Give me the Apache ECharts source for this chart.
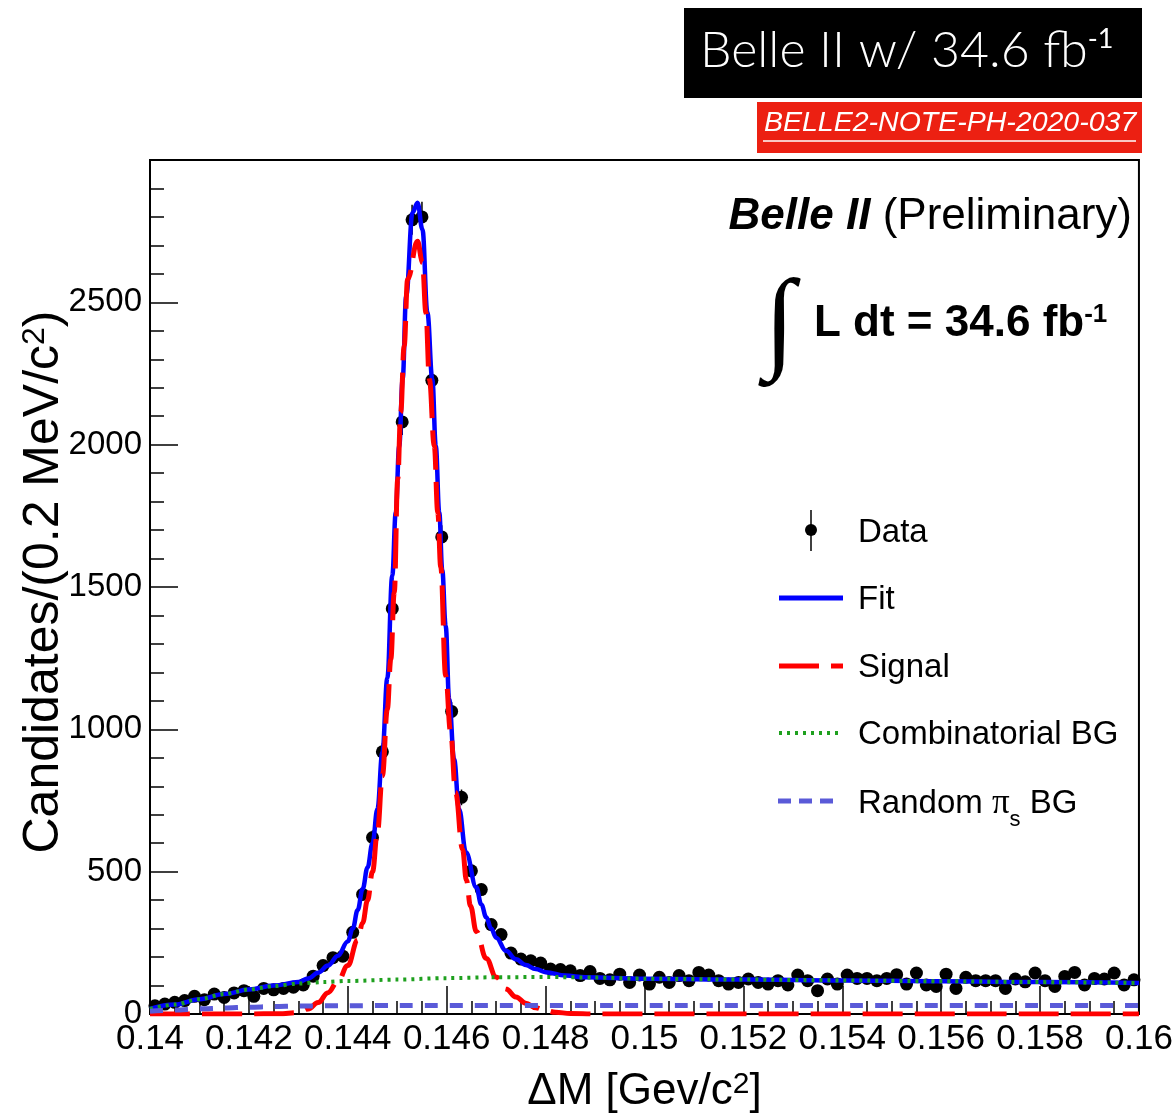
<!DOCTYPE html>
<html>
<head>
<meta charset="utf-8">
<script src="https://cdn.jsdelivr.net/npm/echarts@6/dist/echarts.min.js"></script>
<style>
html,body{margin:0;padding:0;background:#fff;}
#c{width:1176px;height:1119px;}
</style>
</head>
<body>
<div id="c"></div>
<script>
// ---------- data ----------
const binStart = 0.14;
const binWidth = 0.0002;
const dataCounts = [
  29, 35, 41, 47, 62, 50, 70, 58, 74, 82,
  62, 90, 85, 90, 94, 102, 133, 170, 198, 203,
  287, 420, 620, 921, 1424, 2080, 2790, 2800, 2226, 1676,
  1063, 761, 503, 437, 314, 279, 214, 193, 187, 179,
  158, 156, 152, 135, 149, 125, 120, 140, 111, 137,
  105, 129, 111, 135, 117, 146, 137, 117, 105, 111,
  123, 111, 105, 117, 102, 137, 117, 82, 123, 105,
  137, 125, 125, 117, 125, 138, 105, 144, 102, 97,
  140, 90, 129, 117, 117, 117, 90, 123, 113, 144,
  117, 97, 132, 146, 102, 125, 123, 144, 102, 120
];

const fitX = [0.1400,0.1405,0.1410,0.1415,0.1420,0.1425,0.1430,0.1432,0.1434,0.1436,0.1438,0.1440,0.1441,0.1442,0.1443,0.1444,0.1445,0.1446,0.1447,0.1448,0.1449,0.14497,0.14504,0.14511,0.14518,0.14531,0.14541,0.14551,0.14561,0.14571,0.14578,0.14585,0.14591,0.14598,0.14605,0.14615,0.14625,0.14639,0.1466,0.1467,0.1468,0.1469,0.1470,0.1472,0.1474,0.1476,0.1478,0.1480,0.1484,0.1488,0.1500,0.1520,0.1540,0.1560,0.1580,0.1600];
const fitY = [18,33,52,70,86,100,112,125,145,170,205,255,300,365,439,515,600,720,919,1180,1540,1762,1995,2230,2522,2815,2850,2756,2464,2230,1995,1762,1560,1363,1106,895,720,568,445,385,340,300,268,222,192,172,158,147,135,129,124,121,118,115,112,109];

const sigX = [0.1400,0.1420,0.1426,0.1430,0.1432,0.1434,0.1436,0.1438,0.1440,0.1442,0.1443,0.1444,0.1445,0.1446,0.1447,0.1448,0.14487,0.14494,0.14501,0.14507,0.14514,0.14521,0.14541,0.14551,0.14558,0.14565,0.14575,0.14582,0.14588,0.14598,0.14608,0.14618,0.14632,0.1464,0.14648,0.1466,0.1468,0.1470,0.1472,0.1474,0.1476,0.1478,0.1480,0.1482,0.1485,0.1490,0.1600];
const sigY = [0,0,1,5,18,40,75,115,170,260,320,400,500,640,837,1071,1246,1481,1879,2113,2347,2581,2715,2639,2464,2230,1995,1762,1570,1188,989,778,579,470,380,290,195,130,88,60,38,22,12,6,2,0,0];

const combX = [0.1400,0.1405,0.1410,0.1415,0.1420,0.1425,0.1430,0.1435,0.1440,0.1450,0.1460,0.1470,0.1480,0.1490,0.1500,0.1520,0.1540,0.1560,0.1580,0.1600];
const combY = [18,33,52,70,86,98,107,112,116,121,126,129,130,128,124,121,118,115,112,109];

const randX = [0.1400,0.1405,0.1410,0.1415,0.1420,0.1425,0.1430,0.1440,0.1450,0.1500,0.1550,0.1600];
const randY = [10,14,18,21,24,26,28,29,30,30,30,30];

const xTickLabels = ['0.14','0.142','0.144','0.146','0.148','0.15','0.152','0.154','0.156','0.158','0.16'];
const yTickLabels = ['0','500','1000','1500','2000','2500',''];

// ---------- build ----------
const pts = dataCounts.map((v,i)=>[binStart + binWidth*(i+0.5), v]);
const zip = (xs,ys)=>xs.map((x,i)=>[x,ys[i]]);

const FONT = 'Liberation Sans';
const chart = echarts.init(document.getElementById('c'), null, {renderer:'canvas'});

const option = {
  animation:false,
  backgroundColor:'#fff',
  grid:{left:150,right:34,top:160,bottom:104,show:true,borderColor:'#000',borderWidth:2,backgroundColor:'transparent'},
  xAxis:{
    type:'value',min:0.14,max:0.16,interval:0.002,
    axisLine:{show:true,onZero:false,lineStyle:{color:'#000',width:2}},
    axisTick:{show:true,inside:true,length:28,lineStyle:{color:'#000',width:1.5}},
    minorTick:{show:true,splitNumber:4,length:13,lineStyle:{color:'#000',width:1.5}},
    splitLine:{show:false},
    axisLabel:{margin:8,fontFamily:FONT,fontSize:35,color:'#000',
      formatter:(v)=>xTickLabels[Math.round((v-0.14)/0.002)]||''},
    name:'ΔM [Gev/c{sup|2}]',nameLocation:'middle',nameGap:56,
    nameTextStyle:{fontFamily:FONT,fontSize:44,color:'#000',
      rich:{sup:{fontFamily:FONT,fontSize:30,verticalAlign:'top',lineHeight:28,color:'#000'}}}
  },
  yAxis:{
    type:'value',min:0,max:3000,interval:500,
    axisLine:{show:true,onZero:false,lineStyle:{color:'#000',width:2}},
    axisTick:{show:true,inside:true,length:28,lineStyle:{color:'#000',width:1.5}},
    minorTick:{show:true,splitNumber:5,length:14,lineStyle:{color:'#000',width:1.5}},
    splitLine:{show:false},
    axisLabel:{margin:8,fontFamily:FONT,fontSize:33,color:'#000',
      formatter:(v)=>yTickLabels[Math.round(v/500)]||''}
  },
  series:[
    {name:'Data',type:'scatter',data:pts,symbol:'circle',symbolSize:13,
      itemStyle:{color:'#000',opacity:1},z:2},
    {name:'Err',type:'custom',data:pts,z:2,
      renderItem:(params,api)=>{
        const x=api.value(0), y=api.value(1), e=Math.sqrt(y);
        const p1=api.coord([x,y-e]), p2=api.coord([x,y+e]);
        return {type:'line',shape:{x1:p1[0],y1:p1[1],x2:p2[0],y2:p2[1]},style:{stroke:'#000',lineWidth:1.5}};
      }},
    {name:'Fit',type:'line',data:zip(fitX,fitY),showSymbol:false,smooth:0.4,smoothMonotone:'x',
      lineStyle:{color:'#0000ff',width:4.5},z:3},
    {name:'Signal',type:'line',data:zip(sigX,sigY),showSymbol:false,smooth:0.4,smoothMonotone:'x',
      lineStyle:{color:'#ff0000',width:5,type:[40,12]},z:4},
    {name:'Comb',type:'line',data:zip(combX,combY),showSymbol:false,smooth:0.3,smoothMonotone:'x',
      lineStyle:{color:'#1ea01e',width:4,type:[3,5]},z:5},
    {name:'Rand',type:'line',data:zip(randX,randY),showSymbol:false,smooth:0.3,smoothMonotone:'x',
      lineStyle:{color:'#5a5ad8',width:5,type:[13,12]},z:5}
  ],
  graphic:[
    // y axis title
    {type:'text',x:44,y:582,rotation:Math.PI/2,style:{
      text:'Candidates/(0.2 MeV/c{sup|2})',font:'50px "Liberation Sans"',fill:'#000',
      align:'center',verticalAlign:'middle',
      rich:{sup:{fontFamily:FONT,fontSize:32,verticalAlign:'top',lineHeight:30,fill:'#000'}}}},
    // header boxes
    {type:'rect',shape:{x:684,y:8,width:458,height:90},style:{fill:'#000'}},
    {type:'text',left:700,top:26,style:{
      text:'Belle II w/ 34.6 fb{s|-1}',fill:'#fff',font:'300 50px Lato',
      rich:{s:{fontFamily:'Lato',fontSize:27,verticalAlign:'top',lineHeight:28,fill:'#fff'}}}},
    {type:'rect',shape:{x:757,y:102,width:385,height:51},style:{fill:'#ec2012'}},
    {type:'text',left:764,top:109,style:{text:'BELLE2-NOTE-PH-2020-037',fill:'#fff',font:'italic 28.5px "Liberation Sans"'}},
    {type:'line',shape:{x1:763,y1:141,x2:1136,y2:141},style:{stroke:'#fff',lineWidth:1.5}},
    // plot annotations
    {type:'text',right:44,top:195,style:{
      text:'{b|Belle II}{n| (Preliminary)}',
      rich:{b:{fontFamily:FONT,fontSize:44,fontWeight:'bold',fontStyle:'italic',fill:'#000'},
            n:{fontFamily:FONT,fontSize:44,fill:'#000'}}}},
    {type:'text',left:764,top:272,style:{text:'∫',font:'bold 112px "Liberation Serif"',fill:'#000'}},
    {type:'text',left:814,top:302,style:{
      text:'L dt = 34.6 fb{s|-1}',font:'bold 44px "Liberation Sans"',fill:'#000',
      rich:{s:{fontFamily:FONT,fontWeight:'bold',fontSize:26,verticalAlign:'top',lineHeight:24,fill:'#000'}}}},
    // legend
    {type:'line',shape:{x1:811,y1:510,x2:811,y2:551},style:{stroke:'#000',lineWidth:1.5}},
    {type:'circle',shape:{cx:811,cy:530,r:6},style:{fill:'#000'}},
    {type:'text',left:858,top:516,style:{text:'Data',font:'33px "Liberation Sans"',fill:'#000'}},
    {type:'line',shape:{x1:779,y1:598,x2:843,y2:598},style:{stroke:'#0000ff',lineWidth:5}},
    {type:'text',left:858,top:583,style:{text:'Fit',font:'33px "Liberation Sans"',fill:'#000'}},
    {type:'line',shape:{x1:779,y1:666,x2:843,y2:666},style:{stroke:'#ff0000',lineWidth:5,lineDash:[40,12]}},
    {type:'text',left:858,top:651,style:{text:'Signal',font:'33px "Liberation Sans"',fill:'#000'}},
    {type:'line',shape:{x1:779,y1:733,x2:841,y2:733},style:{stroke:'#1ea01e',lineWidth:4,lineDash:[3,5]}},
    {type:'text',left:858,top:718,style:{text:'Combinatorial BG',font:'33px "Liberation Sans"',fill:'#000'}},
    {type:'line',shape:{x1:778,y1:801,x2:834,y2:801},style:{stroke:'#5a5ad8',lineWidth:5,lineDash:[13,8]}},
    {type:'text',left:858,top:786,style:{
      text:'Random {p|π}{sub|s} BG',font:'33px "Liberation Sans"',fill:'#000',
      rich:{p:{fontFamily:'Liberation Serif',fontSize:35,fill:'#000'},
            sub:{fontFamily:FONT,fontSize:22,verticalAlign:'bottom',lineHeight:22,padding:[0,0,-10,0],fill:'#000'}}}}
  ]
};
chart.setOption(option);
</script>
</body>
</html>
